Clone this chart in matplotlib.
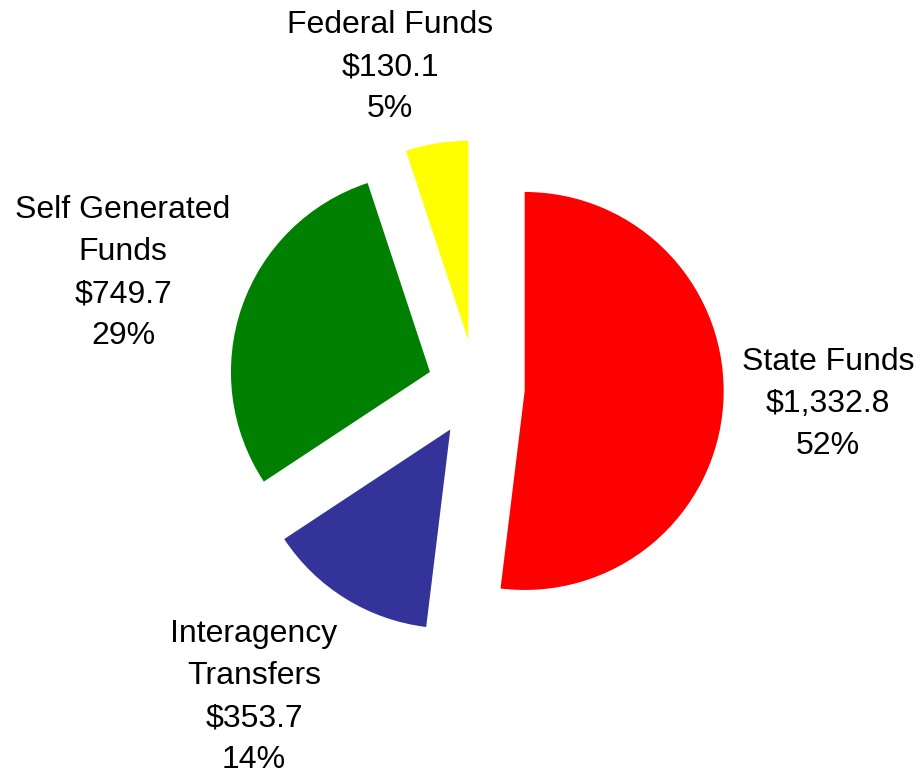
import matplotlib
matplotlib.use('Agg')
import matplotlib.pyplot as plt

# budget by means of finance, $ millions
categories = ['State Funds', 'Interagency\nTransfers', 'Self Generated\nFunds', 'Federal Funds']
amounts = [1332.8, 353.7, 749.7, 130.1]
pct_labels = ['52%', '14%', '29%', '5%']
colors = ['#FF0000', '#333399', '#008000', '#FFFF00']

W, H = 921, 776
fig = plt.figure(figsize=(W / 100, H / 100), dpi=100)
ax = fig.add_axes([0, 0, 1, 1])

cx, cy, r = 476, H - 388, 199
# explode is in data units here, so scale it by the radius
ax.pie(amounts, colors=colors, startangle=90, counterclock=False,
       explode=[0.245 * r] * len(amounts), center=(cx, cy), radius=r,
       wedgeprops=dict(linewidth=0))
ax.set_xlim(0, W)
ax.set_ylim(0, H)
ax.set_aspect('equal')
ax.axis('off')

# label block centres (px from top-left)
label_pos = [(828, 404), (254, 697), (123, 273), (390, 67)]
for name, amt, pct, (lx, ly) in zip(categories, amounts, pct_labels, label_pos):
    txt = f"{name}\n${amt:,.1f}\n{pct}"
    ax.text(lx, H - ly, txt, ha='center', va='center', multialignment='center',
            fontsize=23, family='Liberation Sans', linespacing=1.53)

fig.savefig('out.png', dpi=100)
